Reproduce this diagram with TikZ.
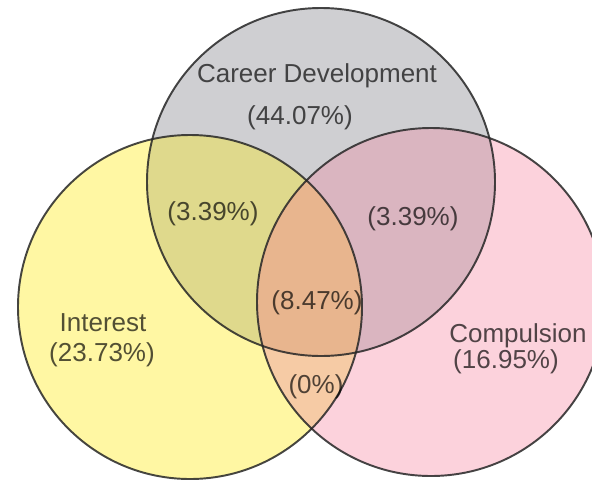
\documentclass[tikz,border=0pt]{standalone}
\usepackage{fontspec}
\setmainfont{Liberation Sans}

\definecolor{careergray}{RGB}{207,207,210}
\definecolor{interestyellow}{RGB}{255,247,163}
\definecolor{compulsionpink}{RGB}{252,210,220}
\definecolor{careerinterest}{RGB}{223,217,140}
\definecolor{careercompulsion}{RGB}{218,181,192}
\definecolor{interestcompulsion}{RGB}{246,203,165}
\definecolor{allthree}{RGB}{232,181,142}

\begin{document}
\begin{tikzpicture}[
    setlabel/.style={text=black, text opacity=0.68, inner sep=0pt,
        font=\fontsize{14.8}{17}\selectfont},
    ring/.style={draw=black!85, draw opacity=0.85, line width=1.1pt}
]
        \useasboundingbox[fill=white] (0,0) rectangle (11.84,9.66);

        % Centres of the three sets
        \coordinate (career) at (6.42,6.02);
        \coordinate (interest) at (3.80,3.52);
        \coordinate (compulsion) at (8.62,3.62);

        % Fill each set
        \fill[careergray] (career) circle (3.48);
        \fill[interestyellow] (interest) circle (3.44);
        \fill[compulsionpink] (compulsion) circle (3.48);

        % Fill the overlaps
        \begin{scope}
            \clip (career) circle (3.48);
            \fill[careerinterest] (interest) circle (3.44);
            \fill[careercompulsion] (compulsion) circle (3.48);
        \end{scope}
        \begin{scope}
            \clip (interest) circle (3.44);
            \fill[interestcompulsion] (compulsion) circle (3.48);
            \clip (compulsion) circle (3.48);
            \fill[allthree] (career) circle (3.48);
        \end{scope}

        % Outlines
        \foreach \c/\r in {career/3.48, interest/3.44, compulsion/3.48} {
            \draw[ring] (\c) circle (\r);
        }

        % Labels
        \node[setlabel] (careername) at (6.34,8.14) {Career Development};
        \node[setlabel] (careerpct) at (6.00,7.30) {(44.07\%)};
        \node[setlabel] (interestname) at (2.06,3.20) {Interest};
        \node[setlabel] (interestpct) at (2.04,2.56) {(23.73\%)};
        \node[setlabel] (compulsionname) at (10.36,2.94) {Compulsion};
        \node[setlabel] (compulsionpct) at (10.12,2.42) {(16.95\%)};
        \node[setlabel] (ci) at (4.26,5.38) {(3.39\%)};
        \node[setlabel] (cc) at (8.26,5.28) {(3.39\%)};
        \node[setlabel] (all) at (6.34,3.60) {(8.47\%)};
        \node[setlabel] (ic) at (6.32,1.92) {(0\%)};
\end{tikzpicture}
\end{document}
